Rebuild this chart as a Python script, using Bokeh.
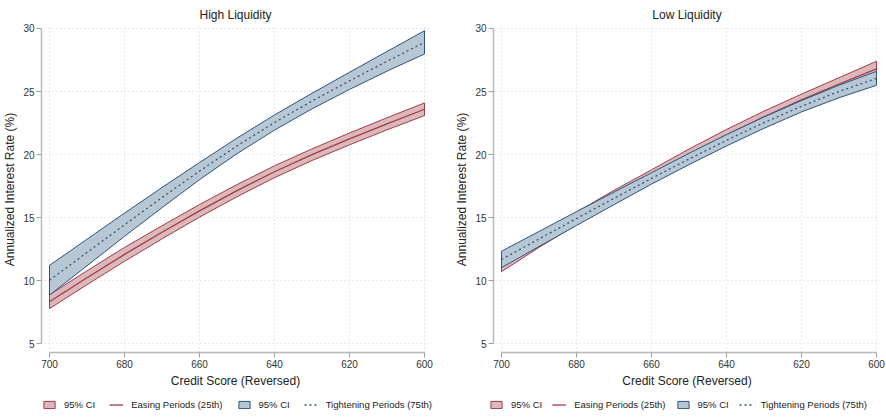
from bokeh.plotting import figure
from bokeh.models import Range1d, FixedTicker, Legend, LegendItem
from bokeh.layouts import row, column
from bokeh.embed import file_html
from bokeh.resources import INLINE

scores = [700, 690, 680, 670, 660, 650, 640, 630, 620, 610, 600]
x_ticks = [700, 680, 660, 640, 620, 600]
y_ticks = [5, 10, 15, 20, 25, 30]

# High liquidity panel
hi_ease_mid = [8.35, 10.25, 12.1, 13.85, 15.55, 17.15, 18.65, 20.0, 21.25, 22.45, 23.6]
hi_ease_lo = [7.8, 9.7, 11.55, 13.33, 15.05, 16.67, 18.18, 19.54, 20.78, 21.97, 23.1]
hi_ease_hi = [8.9, 10.8, 12.65, 14.37, 16.05, 17.63, 19.12, 20.46, 21.72, 22.93, 24.1]
hi_tight_mid = [10.05, 12.25, 14.45, 16.6, 18.7, 20.7, 22.55, 24.25, 25.85, 27.4, 28.9]
hi_tight_lo = [8.87, 11.2, 13.53, 15.8, 18.02, 20.08, 21.95, 23.63, 25.17, 26.62, 27.98]
hi_tight_hi = [11.23, 13.3, 15.37, 17.4, 19.38, 21.32, 23.15, 24.87, 26.53, 28.18, 29.82]

# Low liquidity panel
lo_ease_mid = [11.15, 13.1, 14.95, 16.7, 18.35, 20.0, 21.55, 23.0, 24.35, 25.6, 26.8]
lo_ease_lo = [10.73, 12.65, 14.45, 16.22, 17.9, 19.55, 21.1, 22.55, 23.9, 25.1, 26.2]
lo_ease_hi = [11.57, 13.55, 15.45, 17.18, 18.8, 20.45, 22.0, 23.45, 24.8, 26.1, 27.4]
lo_tight_mid = [11.7, 13.32, 14.94, 16.54, 18.12, 19.66, 21.14, 22.54, 23.84, 25.01, 26.05]
lo_tight_lo = [11.05, 12.72, 14.39, 16.04, 17.67, 19.21, 20.69, 22.09, 23.39, 24.51, 25.5]
lo_tight_hi = [12.35, 13.92, 15.49, 17.04, 18.57, 20.11, 21.59, 22.99, 24.29, 25.51, 26.6]

legend_labels = ["95% CI", "Easing Periods (25th)", "95% CI", "Tightening Periods (75th)"]

RED_LINE = "#a23b47"
RED_FILL = "#dbb8bc"
BLUE_LINE = "#2a5580"
BLUE_FILL = "#b8c7d4"
FONT = "Liberation Sans"
TIGHT_DASH = "2 3"


def band(p, x, lo, hi, fill, line):
    xs = list(x) + list(x)[::-1]
    ys = list(lo) + list(hi)[::-1]
    return p.patch(xs, ys, fill_color=fill, fill_alpha=1.0, line_color=line, line_width=1)


def draw_series(p, ease_mid, ease_lo, ease_hi, tight_mid, tight_lo, tight_hi):
    r1 = band(p, scores, ease_lo, ease_hi, RED_FILL, RED_LINE)
    r2 = p.line(scores, ease_mid, line_color=RED_LINE, line_width=1.3)
    r3 = band(p, scores, tight_lo, tight_hi, BLUE_FILL, BLUE_LINE)
    r4 = p.line(scores, tight_mid, line_color=BLUE_LINE, line_width=1.3, line_dash=TIGHT_DASH)
    return [r1, r2, r3, r4]


def panel(title, series, frame_w, border_left, border_right, x_start, x_end):
    p = figure(frame_width=frame_w, frame_height=326, output_backend="svg", toolbar_location=None,
               x_range=Range1d(x_start, x_end), y_range=Range1d(4.326, 30.158),
               min_border_left=border_left, min_border_right=border_right,
               min_border_top=0, min_border_bottom=40)
    p.outline_line_color = None
    p.title.text = title
    p.title.align = "center"
    p.title.text_font = FONT
    p.title.text_font_size = "12px"
    p.title.text_font_style = "normal"
    p.title.text_color = "#222222"

    draw_series(p, *series)

    for ax, ticks, bounds, lab in ((p.xaxis[0], x_ticks, (600, 700), "Credit Score (Reversed)"),
                                   (p.yaxis[0], y_ticks, (5, 30), "Annualized Interest Rate (%)")):
        ax.ticker = FixedTicker(ticks=ticks)
        ax.bounds = bounds
        ax.axis_label = lab
        ax.axis_label_text_font = FONT
        ax.axis_label_text_font_size = "12px"
        ax.axis_label_text_font_style = "normal"
        ax.axis_label_text_color = "#222222"
        ax.major_label_text_font = FONT
        ax.major_label_text_font_size = "10px"
        ax.major_label_text_color = "#333333"
        ax.axis_line_color = "#b8b8b8"
        ax.axis_line_width = 1.5
        ax.major_tick_line_color = "#a0a0a0"
        ax.major_tick_out = 5
        ax.major_tick_in = 0
        ax.minor_tick_line_color = None
        ax.major_label_standoff = 2
        ax.axis_label_standoff = 3

    for g in (p.xgrid[0], p.ygrid[0]):
        g.grid_line_color = "#d0d0d0"
        g.grid_line_dash = "1 3"
        g.grid_line_width = 1
    p.xgrid[0].ticker = FixedTicker(ticks=x_ticks)
    p.ygrid[0].ticker = FixedTicker(ticks=y_ticks)
    return p


def legend_strip(width, legend_x, spacing, series):
    # strip whose (off-range) proxies carry the same styles; only the legend shows
    q = figure(width=width, height=18, output_backend="svg", toolbar_location=None,
               x_range=Range1d(0, 1), y_range=Range1d(0, 1),
               x_axis_location=None, y_axis_location=None, min_border=0)
    q.outline_line_color = None
    q.grid.visible = False
    rs = draw_series(q, *series)
    legend = Legend(items=[LegendItem(label=lab, renderers=[r])
                           for lab, r in zip(legend_labels, rs)],
                    orientation="horizontal", location=(legend_x, 0))
    legend.label_text_font = FONT
    legend.label_text_font_size = "9.5px"
    legend.label_text_color = "#222222"
    legend.glyph_width = 14
    legend.glyph_height = 9
    legend.label_standoff = 8
    legend.spacing = spacing
    legend.padding = 0
    legend.margin = 0
    legend.label_height = 12
    legend.border_line_color = None
    legend.background_fill_alpha = 0
    q.add_layout(legend, "center")
    return q


hi_series = (hi_ease_mid, hi_ease_lo, hi_ease_hi, hi_tight_mid, hi_tight_lo, hi_tight_hi)
lo_series = (lo_ease_mid, lo_ease_lo, lo_ease_hi, lo_tight_mid, lo_tight_lo, lo_tight_hi)

left = panel("High Liquidity", hi_series, 388, 32, 23, 702.133, 598.667)
right = panel("Low Liquidity", lo_series, 387, 40, 6, 702.133, 598.933)

layout = column(row(left, right),
                row(legend_strip(443, 42, 14, hi_series), legend_strip(433, 46, 10, lo_series)))
open("out.html", "w").write(file_html(layout, INLINE))
